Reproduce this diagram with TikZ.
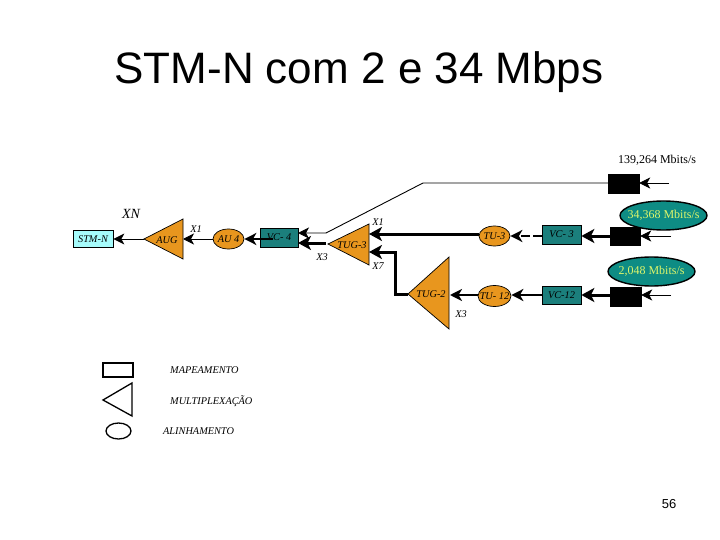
\documentclass[tikz,border=0pt]{standalone}
\usepackage{fontspec}
\setmainfont{Liberation Serif}
\newfontfamily\arialfont{Liberation Sans}
\usetikzlibrary{arrows.meta,calc,shapes.geometric}
\definecolor{orangefill}{HTML}{E8961E}
\definecolor{tealbox}{HTML}{1B7F7C}
\definecolor{tealoval}{HTML}{0E8C84}
\definecolor{cyanbox}{HTML}{A6FBFB}
\definecolor{ratetxt}{HTML}{DDF56A}
\tikzset{
  x=1pt,y=-1pt,
  thinarrow/.style={-{Stealth[inset=3pt,length=11pt,width=11pt]},line width=0.9pt},
  thickarrow/.style={-{Stealth[inset=3.5pt,length=12pt,width=12pt]},line width=2.2pt},
  heavyarrow/.style={-{Stealth[inset=3.5pt,length=13pt,width=14pt]},line width=3pt},
  tri/.style={draw=black,line width=0.7pt,fill=orangefill},
  lab/.style={font=\fontsize{10.3}{11}\selectfont\itshape,inner sep=0pt},
  boxt/.style={draw=black,line width=0.7pt,fill=tealbox,inner sep=0pt,font=\fontsize{10.3}{11}\selectfont\itshape},
  ovl/.style={draw=black,line width=0.7pt,fill=orangefill,ellipse,inner sep=0pt},
  blk/.style={draw=black,fill=black,inner sep=0pt},
  rate/.style={draw=black,line width=1.4pt,fill=tealoval,ellipse,inner sep=0pt},
  ratelab/.style={inner sep=0pt,text=ratetxt,font=\fontsize{12}{13}\selectfont},
  legend/.style={draw=black,line width=1.3pt},
  txt/.style={inner sep=0pt}
}
\newcommand{\rnode}[6]{\node[#1,minimum width=#4,minimum height=#5] (#2) at (#3) {#6};}
\begin{document}
\begin{tikzpicture}
\useasboundingbox (0,0) rectangle (720,540);
\fill[white] (0,0) rectangle (720,540);
\node[txt,font=\arialfont\fontsize{44}{46}\selectfont] (title) at (359,72.5) {STM-N com 2 e 34 Mbps};

% triangles
\coordinate (auga) at (144,239); \coordinate (augt) at (183,219); \coordinate (augb) at (183,259);
\draw[tri] (auga) -- (augt) -- (augb) -- cycle;
\coordinate (tg3a) at (328,244); \coordinate (tg3t) at (369,224); \coordinate (tg3b) at (369,265);
\draw[tri] (tg3a) -- (tg3t) -- (tg3b) -- cycle;
\coordinate (tg2a) at (408,294); \coordinate (tg2t) at (449,257); \coordinate (tg2b) at (449,329);
\draw[tri] (tg2a) -- (tg2t) -- (tg2b) -- cycle;

% boxes and ovals
\rnode{boxt,fill=cyanbox}{stm}{93,239}{40pt}{17pt}{STM-N}
\rnode{ovl}{au4}{228.5,239}{31pt}{20pt}{}
\rnode{boxt}{vc4}{279,237.5}{38pt}{19pt}{VC- 4}
\rnode{ovl}{tu3}{494.5,236}{31pt}{20pt}{}
\rnode{boxt}{vc3}{561.5,234.5}{39pt}{19pt}{VC- 3}
\rnode{ovl}{tu12}{494.5,296}{33pt}{21pt}{}
\rnode{boxt}{vc12}{561.5,295}{39pt}{18pt}{VC-12}
\rnode{blk}{b1}{623.5,183.5}{31pt}{19pt}{}
\rnode{blk}{b2}{625,236}{30pt}{18pt}{}
\rnode{blk}{b3}{625.5,296.5}{31pt}{19pt}{}
\rnode{rate}{r1}{663.5,215.5}{87pt}{29pt}{}
\rnode{rate}{r2}{651.5,271.5}{87pt}{29pt}{}
\node[lab] (au4lab) at (au4) {AU 4};
\node[lab] (tu3lab) at (tu3) {TU-3};
\node[lab] (tu12lab) at (tu12) {TU- 12};
\node[ratelab] (r1lab) at (r1) {34,368 Mbits/s};
\node[ratelab] (r2lab) at (r2) {2,048 Mbits/s};
\node[lab] (auglab) at (167,240) {AUG};
\node[lab] (tg3lab) at (352,245) {TUG-3};
\node[lab] (tg2lab) at (431,294) {TUG-2};

% connector anchors
\coordinate (in1) at (669,183);
\coordinate (in2) at (671,236);
\coordinate (in3) at (671,295);
\coordinate (bend1) at (423,183);
\coordinate (bend2) at (326,233);
\coordinate (vc4a) at (298,233);
\coordinate (vc4b) at (298,243);
\coordinate (tg3up) at (369,234);
\coordinate (tg3lo) at (369,252);
\coordinate (tg2r) at (450,295);
\coordinate (bend3) at (395,252);
\coordinate (bend4) at (395,294);

% connectors
\draw[thinarrow] (auga) -- (stm.east);
\draw[thinarrow] (au4.west) -- (183,239);
\draw[thickarrow] (273,239) -- (au4.east);
\draw[thinarrow] (b1.west |- bend1) -- (bend1) -- (bend2) -- (vc4a);
\draw[heavyarrow] (326,243) -- (vc4b);
\draw[heavyarrow] (tu3.west |- tg3up) -- (tg3up);
\draw[heavyarrow] (tg2a) -- (bend4) -- (bend3) -- (tg3lo);
\draw[thickarrow,dash pattern=on 9pt off 3pt] (vc3.west |- tu3) -- (tu3.east);
\draw[heavyarrow] (b2.west) -- (vc3.east |- b2);
\draw[thinarrow] (in1) -- (b1.east |- in1);
\draw[thinarrow] (in2) -- (b2.east);
\draw[thinarrow] (in3) -- (b3.east |- in3);
\draw[heavyarrow] (b3.west |- in3) -- (vc12.east |- in3);
\draw[thickarrow] (vc12.west |- in3) -- (tu12.east |- in3);
\draw[thickarrow] (tu12.west |- in3) -- (tg2r);

% labels
\node[lab,font=\fontsize{14}{15}\selectfont\itshape] (xn) at (131,214) {XN};
\node[lab] (x1a) at (196,229) {X1};
\node[lab] (x1b) at (378,222) {X1};
\node[lab] (x3a) at (322,257) {X3};
\node[lab] (x7) at (378,266) {X7};
\node[lab] (x3b) at (461,314) {X3};
\node[txt,font=\fontsize{12}{13}\selectfont] (r0) at (657,160) {139,264 Mbits/s};

% legend
\node[legend,minimum width=30pt,minimum height=14pt,inner sep=0pt] (lrect) at (118,370) {};
\coordinate (la) at (103,400); \coordinate (lt) at (132,383); \coordinate (lb) at (132,416);
\draw[legend] (la) -- (lt) -- (lb) -- cycle;
\node[legend,ellipse,minimum width=25pt,minimum height=16pt,inner sep=0pt] (lell) at (118.5,431) {};
\node[lab,anchor=west] (m1) at (170,370) {MAPEAMENTO};
\node[lab,anchor=west] (m2) at (170,401) {MULTIPLEXAÇÃO};
\node[lab,anchor=west] (m3) at (163,431) {ALINHAMENTO};
\node[txt,font=\arialfont\fontsize{13}{14}\selectfont] (pg) at (669,504) {56};
\end{tikzpicture}
\end{document}
